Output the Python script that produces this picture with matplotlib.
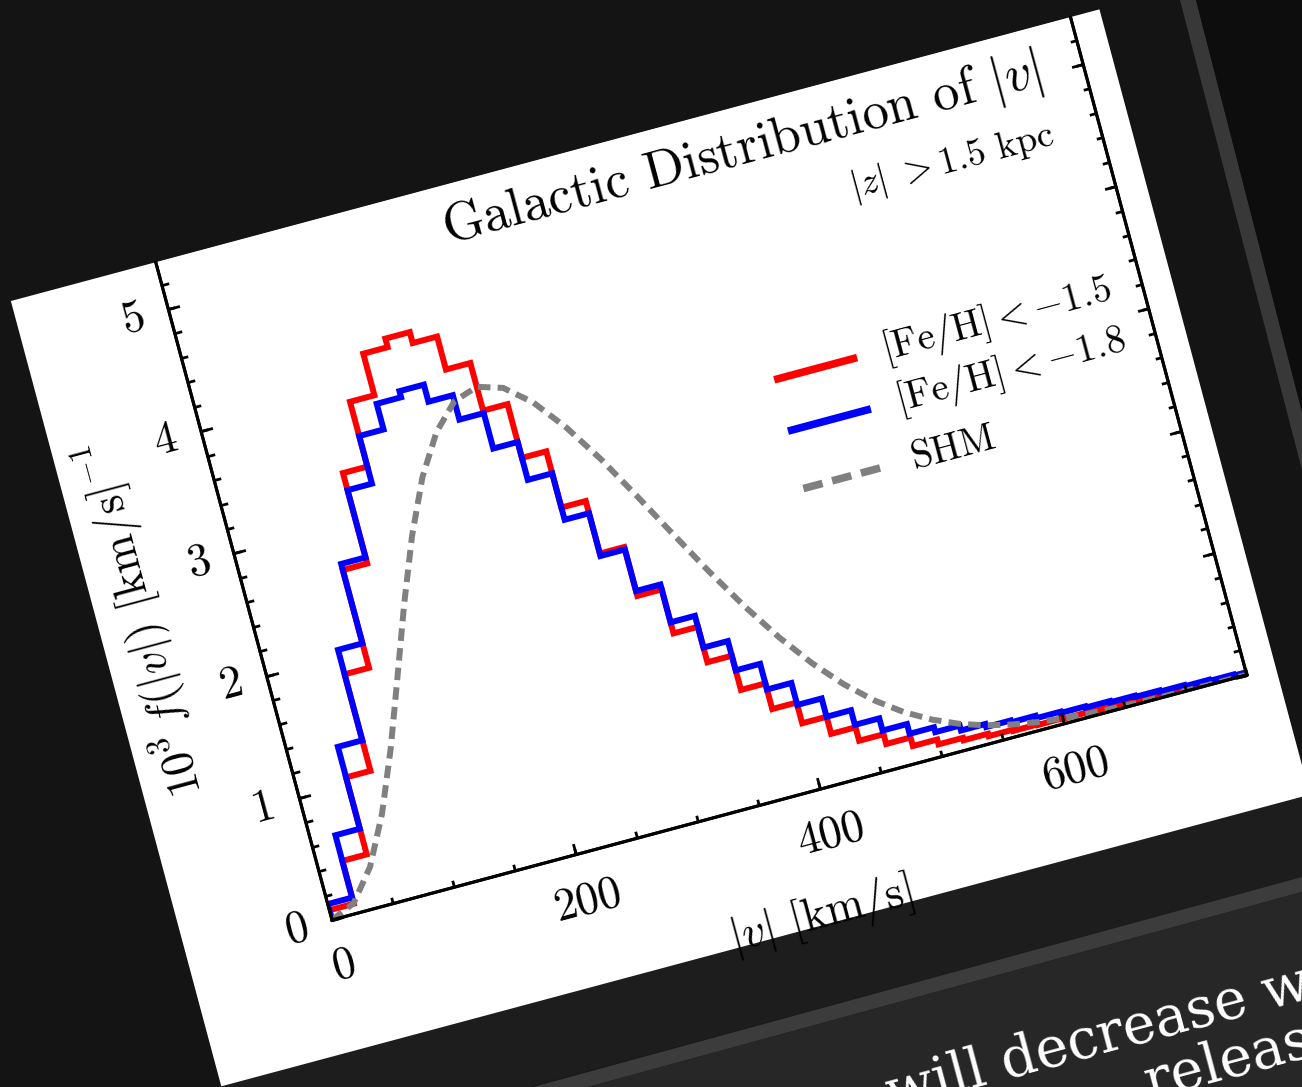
import numpy as np
import matplotlib
matplotlib.use("Agg")
import matplotlib.pyplot as plt
from matplotlib.transforms import Affine2D
from matplotlib.patches import Polygon
import mpl_toolkits.axisartist.floating_axes as floating_axes
from mpl_toolkits.axisartist.grid_finder import FixedLocator, DictFormatter

plt.rcParams['font.family'] = 'serif'
plt.rcParams['font.serif'] = ['cmr10']
plt.rcParams['mathtext.fontset'] = 'cm'
plt.rcParams['axes.unicode_minus'] = False

# histogram bins (km/s) and values, 10^3 f(|v|)
bin_edges = np.arange(0, 761, 20)
feh_15 = [0.08, 0.43, 1.06, 1.85, 2.65, 3.39, 3.92, 4.26, 4.33, 4.24,
          3.97, 3.58, 3.14, 2.68, 2.25, 1.85, 1.49, 1.20, 0.92, 0.71,
          0.54, 0.40, 0.29, 0.21, 0.14, 0.10, 0.08, 0.06, 0.05, 0.045,
          0.04, 0.035, 0.03, 0.03, 0.025, 0.02, 0.02, 0.02]
feh_18 = [0.13, 0.64, 1.31, 2.05, 2.70, 3.25, 3.64, 3.85, 3.90, 3.76,
          3.56, 3.27, 2.96, 2.58, 2.23, 1.89, 1.58, 1.32, 1.08, 0.87,
          0.69, 0.54, 0.42, 0.32, 0.24, 0.20, 0.16, 0.135, 0.12, 0.10,
          0.09, 0.08, 0.07, 0.06, 0.05, 0.04, 0.03, 0.02]

# SHM curve
shm_v = [0, 20, 40, 60, 80, 100, 120, 140, 160, 180, 200, 220, 240, 260,
         280, 300, 320, 340, 360, 380, 400, 420, 440, 460, 480, 500, 520,
         540, 560, 580, 600, 620, 640, 660, 680, 700, 720, 740, 750]
shm_f = [0.0, 0.084, 0.328, 0.708, 1.188, 1.724, 2.266, 2.770, 3.197, 3.513,
         3.711, 3.775, 3.713, 3.540, 3.283, 2.971, 2.616, 2.248, 1.887, 1.549,
         1.243, 0.977, 0.751, 0.566, 0.418, 0.303, 0.215, 0.149, 0.102, 0.068,
         0.045, 0.029, 0.018, 0.011, 0.007, 0.004, 0.002, 0.001, 0.001]

x_ticks = [0, 200, 400, 600]
y_ticks = [0, 1, 2, 3, 4, 5]
x_minor = list(range(0, 751, 50))
y_minor = [round(0.2 * i, 1) for i in range(27)]

W, H = 1302, 1087
fig = plt.figure(figsize=(W / 100, H / 100), dpi=100, facecolor='#141414')

# pixel helpers (image coords, y down) and tilted slide frame
img = Affine2D().scale(1 / W, -1 / H).translate(0, 1) + fig.transFigure
ox, oy = 332, 167
angle = 15
frame = Affine2D().rotate_deg(angle).translate(ox, oy).scale(1 / W, 1 / H) + fig.transFigure

def bg(pts, color, trans, z=-5):
    fig.add_artist(Polygon(pts, closed=True, facecolor=color, edgecolor='none',
                           transform=trans, zorder=z))

bg([(1180, 0), (1196, 0), (1302, 412), (1302, 470)], '#383838', img)
bg([(1196, 0), (1302, 0), (1302, 412)], '#0d0d0d', img)
bg([(215, 1087), (530, 1087), (1302, 877), (1302, 760)], '#1d1d1d', img)
bg([(500, 1096), (1302, 877), (1302, 892), (500, 1111)], '#3c3c3c', img, -4.5)
bg([(500, 1111), (1302, 892), (1302, 1087), (500, 1087)], '#272727', img, -4.5)
bg([(-150, -132), (977, -132), (977, 681), (-150, 681)], 'white', frame, -3)

# rotated axes
sx, sy = 1.2627, 126.5
xmax, ymax = 750, 5.38
tr = Affine2D().scale(sx, sy).rotate_deg(angle)
corners = tr.transform([(0, 0), (xmax, 0), (0, ymax), (xmax, ymax)])
(x0, y0), (x1, y1) = corners.min(0), corners.max(0)
cx, cy = ox + (x0 + x1) / 2, oy + (y0 + y1) / 2
w, h = (x1 - x0) * 1.02, (y1 - y0) * 1.02
rect = [(cx - w / 2) / W, (cy - h / 2) / H, w / W, h / H]

gh = floating_axes.GridHelperCurveLinear(
    tr, extremes=(0, xmax, 0, ymax),
    grid_locator1=FixedLocator(x_ticks), grid_locator2=FixedLocator(y_ticks),
    tick_formatter1=DictFormatter({v: str(v) for v in x_ticks}),
    tick_formatter2=DictFormatter({v: str(v) for v in y_ticks}))
ax = fig.add_axes(rect, axes_class=floating_axes.FloatingAxes, grid_helper=gh)
ax.patch.set_facecolor('white')
ax.axis["top"].set_visible(False)
ax.axis[:].line.set_linewidth(2.2)
ax.axis[:].major_ticks.set_ticksize(8.5)
ax.axis[:].major_ticks.set_markeredgewidth(2)
for side in ["left", "bottom"]:
    ax.axis[side].major_ticklabels.set_fontsize(33)
    ax.axis[side].label.set_fontsize(33)
ax.axis["bottom"].major_ticklabels.set_pad(20)
ax.axis["left"].major_ticklabels.set_pad(18)
ax.axis["bottom"].label.set_text(r"$|v|$ [km/s]")
ax.axis["left"].label.set_text(r"$10^3\,f(|v|)$ [km/s]$^{-1}$")
ax.axis["bottom"].label.set_pad(26)
ax.axis["left"].label.set_pad(21)

gh_minor = floating_axes.GridHelperCurveLinear(
    tr, extremes=(0, xmax, 0, ymax),
    grid_locator1=FixedLocator(x_minor), grid_locator2=FixedLocator(y_minor),
    tick_formatter1=DictFormatter({}), tick_formatter2=DictFormatter({}))
axm = fig.add_axes(rect, axes_class=floating_axes.FloatingAxes, grid_helper=gh_minor)
axm.patch.set_facecolor('none')
axm.axis["top"].set_visible(False)
axm.axis[:].line.set_linewidth(2.2)
axm.axis[:].major_ticks.set_ticksize(5)
axm.axis[:].major_ticks.set_markeredgewidth(2)
axm.axis[:].major_ticklabels.set_visible(False)
axm.axis["left"].label.set_visible(False)
axm.axis["bottom"].label.set_visible(False)

aux = ax.get_aux_axes(tr)
s1 = aux.stairs(feh_15, bin_edges, color='red', linewidth=4.3)
s2 = aux.stairs(feh_18, bin_edges, color='blue', linewidth=4.3)
l3, = aux.plot(shm_v, shm_f, color='gray', linewidth=4.3, dashes=(2.1, 1.2))
for art in (s1, s2, l3):
    art.set_clip_path(ax.patch)

# legend drawn in the tilted frame
leg_labels = [r"[Fe/H]$<-1.5$", r"[Fe/H]$<-1.8$", "SHM"]
leg_styles = [dict(color='red'), dict(color='blue'), dict(color='gray', dashes=(2.6, 1.3))]
leg_y = [3.22, 2.80, 2.33]
for lab, st, yy in zip(leg_labels, leg_styles, leg_y):
    aux.plot([449, 517], [yy, yy], linewidth=5.5, solid_capstyle='butt', **st)
    aux.text(538, yy, lab, fontsize=28, rotation=angle, rotation_mode='anchor',
             ha='left', va='center')

aux.text(471, 5.04, r"Galactic Distribution of $|v|$", fontsize=38,
         rotation=angle, rotation_mode='anchor', ha='center', va='center')
aux.text(630, 4.52, r"$|z|\ {>}1.5$ kpc", fontsize=27,
         rotation=angle, rotation_mode='anchor', ha='center', va='center')

# slide text below the picture
fig.text(892 / W, 1 - 1110 / H, "will decrease w", color='white', fontsize=40,
         family='DejaVu Serif', rotation=angle, rotation_mode='anchor',
         ha='left', va='baseline')
fig.text(1150 / W, 1 - 1099 / H, "releas", color='white', fontsize=40,
         family='DejaVu Serif', rotation=angle, rotation_mode='anchor',
         ha='left', va='baseline')

fig.savefig("out.png", dpi=100, facecolor=fig.get_facecolor())
